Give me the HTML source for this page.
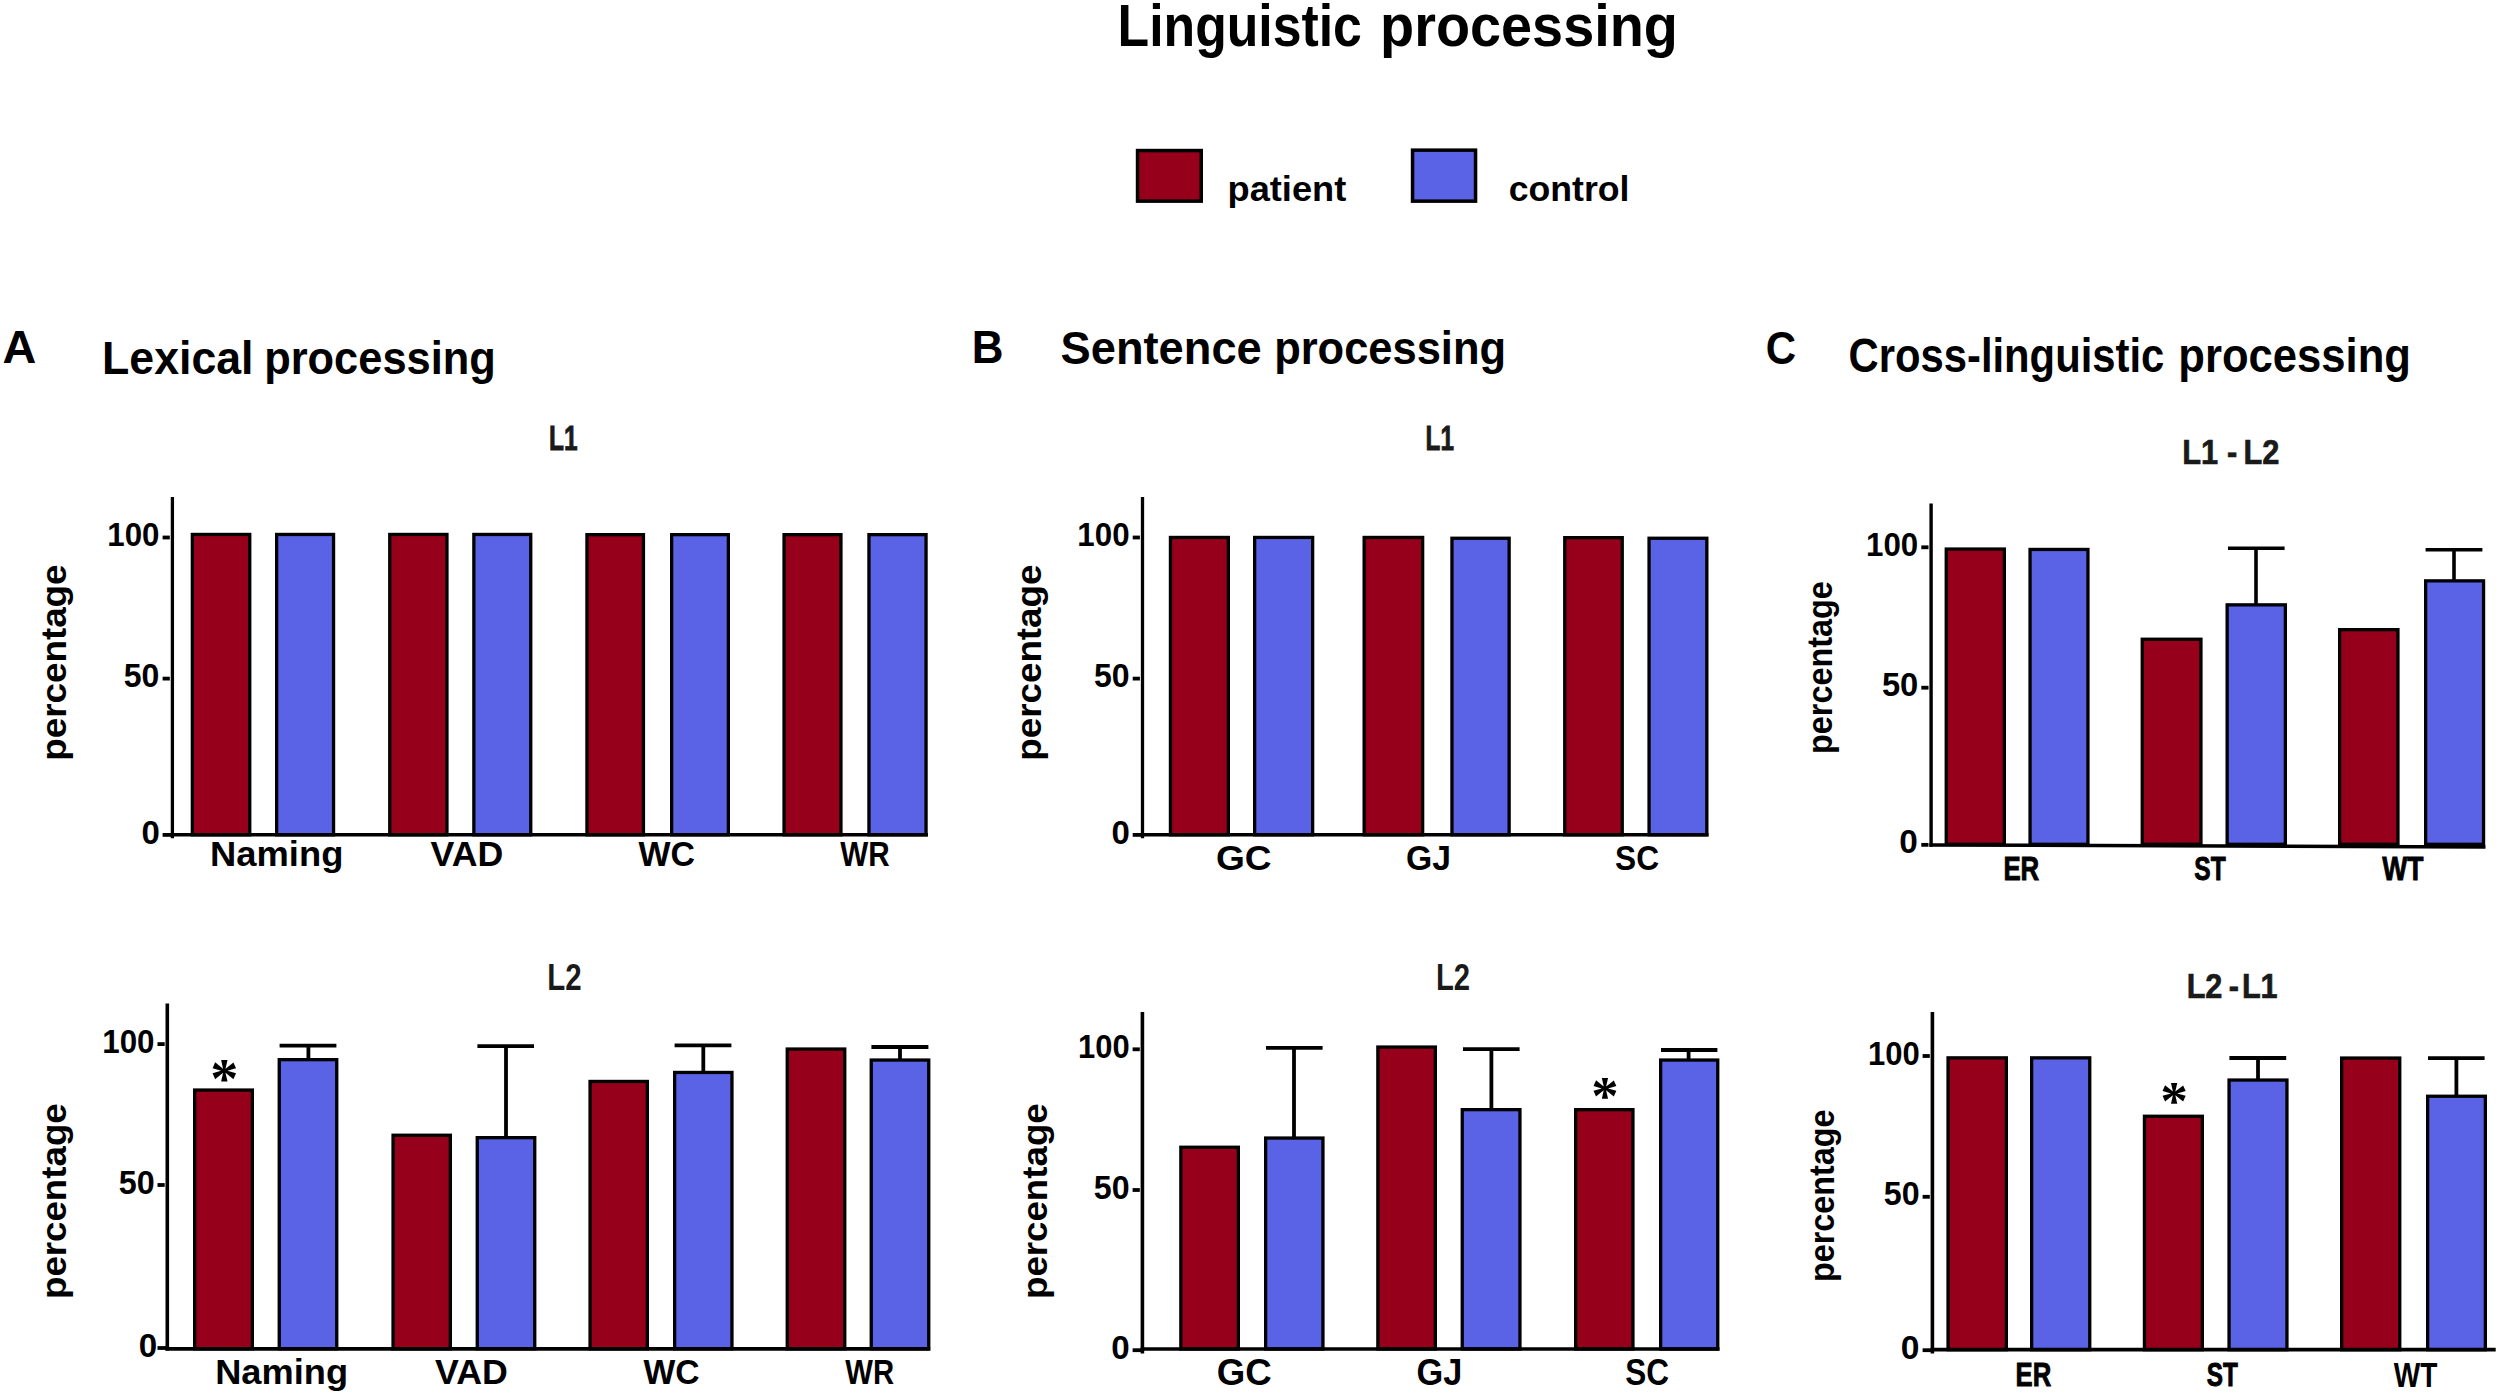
<!DOCTYPE html>
<html><head><meta charset="utf-8"><title>Linguistic processing</title>
<style>
html,body{margin:0;padding:0;background:#fff;overflow:hidden;}
svg{display:block;}
text{font-family:"Liberation Sans",sans-serif;font-weight:bold;}
text.s{font-family:"Liberation Serif",serif;}
</style></head><body>
<svg width="2500" height="1395" viewBox="0 0 2500 1395">
<rect width="2500" height="1395" fill="#fff"/>
<text transform="translate(1117.58,45.60) scale(0.8770,1)" font-size="59.01" fill="#000">Linguistic</text>
<text transform="translate(1380.12,45.60) scale(0.9460,1)" font-size="59.01" fill="#000">processing</text>
<rect x="1137.55" y="150.55" width="63.70" height="50.60" fill="#96001b" stroke="#000" stroke-width="3.5"/>
<rect x="1412.55" y="150.15" width="63.00" height="51.00" fill="#5a63e6" stroke="#000" stroke-width="3.5"/>
<text transform="translate(1227.51,201.00) scale(1.0262,1)" font-size="35.32" fill="#000">patient</text>
<text transform="translate(1508.77,201.10) scale(1.0037,1)" font-size="35.50" fill="#000">control</text>
<text transform="translate(2.38,363.00) scale(1.0269,1)" font-size="45.64" fill="#000">A</text>
<text transform="translate(971.70,363.10) scale(0.9505,1)" font-size="46.22" fill="#000">B</text>
<text transform="translate(1765.63,363.60) scale(0.9224,1)" font-size="45.56" fill="#000">C</text>
<text transform="translate(102.05,374.40) scale(0.9785,1)" font-size="45.64" fill="#000">Lexical</text>
<text transform="translate(264.13,374.40) scale(0.9519,1)" font-size="45.64" fill="#000">processing</text>
<text transform="translate(1060.54,364.00) scale(0.9779,1)" font-size="46.28" fill="#000">Sentence</text>
<text transform="translate(1274.13,364.00) scale(0.9397,1)" font-size="46.28" fill="#000">processing</text>
<text transform="translate(1848.55,372.40) scale(0.8838,1)" font-size="47.28" fill="#000">Cross-linguistic</text>
<text transform="translate(2178.32,372.40) scale(0.9226,1)" font-size="47.28" fill="#000">processing</text>
<rect x="192.35" y="534.45" width="57.40" height="300.35" fill="#96001b" stroke="#000" stroke-width="3.3"/>
<rect x="276.65" y="534.45" width="56.90" height="300.35" fill="#5a63e6" stroke="#000" stroke-width="3.3"/>
<rect x="389.75" y="534.45" width="57.20" height="300.35" fill="#96001b" stroke="#000" stroke-width="3.3"/>
<rect x="473.85" y="534.45" width="56.90" height="300.35" fill="#5a63e6" stroke="#000" stroke-width="3.3"/>
<rect x="586.95" y="534.65" width="56.50" height="300.15" fill="#96001b" stroke="#000" stroke-width="3.3"/>
<rect x="671.65" y="534.65" width="56.70" height="300.15" fill="#5a63e6" stroke="#000" stroke-width="3.3"/>
<rect x="784.05" y="534.65" width="56.90" height="300.15" fill="#96001b" stroke="#000" stroke-width="3.3"/>
<rect x="868.95" y="534.65" width="57.10" height="300.15" fill="#5a63e6" stroke="#000" stroke-width="3.3"/>
<line x1="172.40" y1="497.00" x2="172.40" y2="838.30" stroke="#000" stroke-width="3.3"/>
<line x1="170.75" y1="834.80" x2="928.00" y2="834.80" stroke="#000" stroke-width="3.4"/>
<text transform="translate(107.26,545.90) scale(0.9333,1)" font-size="33.52" fill="#000">100</text>
<line x1="162.60" y1="537.50" x2="169.80" y2="537.50" stroke="#000" stroke-width="3.8"/>
<text transform="translate(123.78,686.60) scale(0.9675,1)" font-size="33.09" fill="#000">50</text>
<line x1="162.60" y1="678.60" x2="169.80" y2="678.60" stroke="#000" stroke-width="3.8"/>
<text transform="translate(141.38,843.60) scale(0.9839,1)" font-size="33.52" fill="#000">0</text>
<line x1="162.60" y1="834.90" x2="172.40" y2="834.90" stroke="#000" stroke-width="3.8"/>
<text transform="translate(210.10,866.30) scale(1.0424,1)" font-size="34.88" fill="#000">Naming</text>
<text transform="translate(430.61,866.30) scale(1.0248,1)" font-size="34.88" fill="#000">VAD</text>
<text transform="translate(638.53,866.30) scale(0.9725,1)" font-size="34.88" fill="#000">WC</text>
<text transform="translate(840.14,866.30) scale(0.8509,1)" font-size="34.88" fill="#000">WR</text>
<text transform="translate(548.99,450.20) scale(0.6948,1)" font-size="35.17" fill="#1a1a1a" stroke="#1a1a1a" stroke-width="0.8" vector-effect="non-scaling-stroke" stroke-linejoin="miter">L1</text>
<text transform="translate(65.74,760.83) rotate(-90) scale(1.0243,1)" font-size="35.95" fill="#000">percentage</text>
<line x1="308.40" y1="1045.60" x2="308.40" y2="1060.00" stroke="#000" stroke-width="3.8000000000000003"/>
<line x1="279.60" y1="1045.60" x2="336.40" y2="1045.60" stroke="#000" stroke-width="3.8000000000000003"/>
<line x1="506.00" y1="1046.20" x2="506.00" y2="1138.00" stroke="#000" stroke-width="3.8000000000000003"/>
<line x1="477.40" y1="1046.20" x2="534.00" y2="1046.20" stroke="#000" stroke-width="3.8000000000000003"/>
<line x1="703.30" y1="1045.40" x2="703.30" y2="1072.80" stroke="#000" stroke-width="3.8000000000000003"/>
<line x1="674.60" y1="1045.40" x2="731.40" y2="1045.40" stroke="#000" stroke-width="3.8000000000000003"/>
<line x1="900.00" y1="1047.00" x2="900.00" y2="1060.40" stroke="#000" stroke-width="3.8000000000000003"/>
<line x1="871.40" y1="1047.00" x2="928.40" y2="1047.00" stroke="#000" stroke-width="3.8000000000000003"/>
<rect x="194.65" y="1090.05" width="57.70" height="258.75" fill="#96001b" stroke="#000" stroke-width="3.3"/>
<rect x="279.25" y="1059.65" width="57.50" height="289.15" fill="#5a63e6" stroke="#000" stroke-width="3.3"/>
<rect x="393.05" y="1135.25" width="57.30" height="213.55" fill="#96001b" stroke="#000" stroke-width="3.3"/>
<rect x="477.25" y="1137.65" width="57.50" height="211.15" fill="#5a63e6" stroke="#000" stroke-width="3.3"/>
<rect x="590.05" y="1081.45" width="57.30" height="267.35" fill="#96001b" stroke="#000" stroke-width="3.3"/>
<rect x="674.65" y="1072.45" width="57.30" height="276.35" fill="#5a63e6" stroke="#000" stroke-width="3.3"/>
<rect x="787.25" y="1049.05" width="57.50" height="299.75" fill="#96001b" stroke="#000" stroke-width="3.3"/>
<rect x="871.25" y="1060.05" width="57.50" height="288.75" fill="#5a63e6" stroke="#000" stroke-width="3.3"/>
<line x1="167.30" y1="1003.60" x2="167.30" y2="1350.60" stroke="#000" stroke-width="3.6"/>
<line x1="165.50" y1="1348.80" x2="930.20" y2="1348.80" stroke="#000" stroke-width="3.7"/>
<text transform="translate(102.26,1052.60) scale(0.9353,1)" font-size="33.52" fill="#000">100</text>
<line x1="157.50" y1="1044.10" x2="164.70" y2="1044.10" stroke="#000" stroke-width="3.8"/>
<text transform="translate(118.67,1193.50) scale(0.9637,1)" font-size="33.52" fill="#000">50</text>
<line x1="157.50" y1="1185.00" x2="164.70" y2="1185.00" stroke="#000" stroke-width="3.8"/>
<text transform="translate(138.87,1356.60) scale(0.9901,1)" font-size="33.52" fill="#000">0</text>
<line x1="157.50" y1="1348.00" x2="167.30" y2="1348.00" stroke="#000" stroke-width="3.8"/>
<text transform="translate(215.21,1383.70) scale(1.0340,1)" font-size="35.03" fill="#000">Naming</text>
<text transform="translate(435.11,1383.70) scale(1.0206,1)" font-size="35.03" fill="#000">VAD</text>
<text transform="translate(643.43,1383.70) scale(0.9615,1)" font-size="35.03" fill="#000">WC</text>
<text transform="translate(845.24,1383.70) scale(0.8370,1)" font-size="35.03" fill="#000">WR</text>
<text class="s" transform="translate(210.24,1097.61) scale(0.9976,1)" font-size="56.38">*</text>
<text transform="translate(547.16,989.80) scale(0.8121,1)" font-size="36.25" fill="#1a1a1a">L2</text>
<text transform="translate(65.84,1299.02) rotate(-90) scale(1.0206,1)" font-size="35.95" fill="#000">percentage</text>
<rect x="1170.45" y="537.45" width="57.90" height="297.35" fill="#96001b" stroke="#000" stroke-width="3.3"/>
<rect x="1254.65" y="537.45" width="58.00" height="297.35" fill="#5a63e6" stroke="#000" stroke-width="3.3"/>
<rect x="1364.15" y="537.45" width="58.50" height="297.35" fill="#96001b" stroke="#000" stroke-width="3.3"/>
<rect x="1451.95" y="538.25" width="57.20" height="296.55" fill="#5a63e6" stroke="#000" stroke-width="3.3"/>
<rect x="1564.75" y="537.65" width="57.50" height="297.15" fill="#96001b" stroke="#000" stroke-width="3.3"/>
<rect x="1649.05" y="538.25" width="57.80" height="296.55" fill="#5a63e6" stroke="#000" stroke-width="3.3"/>
<line x1="1142.50" y1="497.00" x2="1142.50" y2="838.30" stroke="#000" stroke-width="3.3"/>
<line x1="1140.85" y1="834.80" x2="1708.50" y2="834.80" stroke="#000" stroke-width="3.4"/>
<text transform="translate(1077.36,545.90) scale(0.9333,1)" font-size="33.52" fill="#000">100</text>
<line x1="1132.70" y1="537.50" x2="1139.90" y2="537.50" stroke="#000" stroke-width="3.8"/>
<text transform="translate(1093.88,686.60) scale(0.9675,1)" font-size="33.09" fill="#000">50</text>
<line x1="1132.70" y1="678.60" x2="1139.90" y2="678.60" stroke="#000" stroke-width="3.8"/>
<text transform="translate(1111.48,843.60) scale(0.9839,1)" font-size="33.52" fill="#000">0</text>
<line x1="1132.70" y1="834.90" x2="1142.50" y2="834.90" stroke="#000" stroke-width="3.8"/>
<text transform="translate(1215.94,870.20) scale(1.0690,1)" font-size="34.67" fill="#000">GC</text>
<text transform="translate(1406.09,870.20) scale(0.9709,1)" font-size="34.67" fill="#000">GJ</text>
<text transform="translate(1615.05,870.20) scale(0.9138,1)" font-size="34.67" fill="#000">SC</text>
<text transform="translate(1425.60,450.20) scale(0.6895,1)" font-size="35.17" fill="#1a1a1a" stroke="#1a1a1a" stroke-width="0.8" vector-effect="non-scaling-stroke" stroke-linejoin="miter">L1</text>
<text transform="translate(1040.64,760.63) rotate(-90) scale(1.0222,1)" font-size="35.95" fill="#000">percentage</text>
<line x1="1294.00" y1="1047.80" x2="1294.00" y2="1138.40" stroke="#000" stroke-width="3.8000000000000003"/>
<line x1="1266.00" y1="1047.80" x2="1322.60" y2="1047.80" stroke="#000" stroke-width="3.8000000000000003"/>
<line x1="1491.40" y1="1049.20" x2="1491.40" y2="1110.00" stroke="#000" stroke-width="3.8000000000000003"/>
<line x1="1463.00" y1="1049.20" x2="1519.60" y2="1049.20" stroke="#000" stroke-width="3.8000000000000003"/>
<line x1="1688.60" y1="1050.00" x2="1688.60" y2="1060.40" stroke="#000" stroke-width="3.8000000000000003"/>
<line x1="1661.00" y1="1050.00" x2="1717.40" y2="1050.00" stroke="#000" stroke-width="3.8000000000000003"/>
<rect x="1180.85" y="1147.25" width="57.50" height="201.75" fill="#96001b" stroke="#000" stroke-width="3.3"/>
<rect x="1265.65" y="1138.05" width="57.30" height="210.95" fill="#5a63e6" stroke="#000" stroke-width="3.3"/>
<rect x="1377.85" y="1047.05" width="57.50" height="301.95" fill="#96001b" stroke="#000" stroke-width="3.3"/>
<rect x="1462.25" y="1109.65" width="57.70" height="239.35" fill="#5a63e6" stroke="#000" stroke-width="3.3"/>
<rect x="1575.65" y="1109.65" width="57.30" height="239.35" fill="#96001b" stroke="#000" stroke-width="3.3"/>
<rect x="1660.65" y="1060.05" width="57.10" height="288.95" fill="#5a63e6" stroke="#000" stroke-width="3.3"/>
<line x1="1142.40" y1="1012.00" x2="1142.40" y2="1353.60" stroke="#000" stroke-width="3.6"/>
<line x1="1140.60" y1="1349.00" x2="1719.50" y2="1349.00" stroke="#000" stroke-width="3.7"/>
<text transform="translate(1078.08,1057.80) scale(0.9219,1)" font-size="33.52" fill="#000">100</text>
<line x1="1132.60" y1="1049.30" x2="1139.80" y2="1049.30" stroke="#000" stroke-width="3.8"/>
<text transform="translate(1093.87,1198.50) scale(0.9608,1)" font-size="33.52" fill="#000">50</text>
<line x1="1132.60" y1="1190.00" x2="1139.80" y2="1190.00" stroke="#000" stroke-width="3.8"/>
<text transform="translate(1111.27,1358.70) scale(0.9901,1)" font-size="33.52" fill="#000">0</text>
<line x1="1132.60" y1="1350.20" x2="1142.40" y2="1350.20" stroke="#000" stroke-width="3.8"/>
<text transform="translate(1216.66,1384.80) scale(1.0110,1)" font-size="36.25" fill="#000">GC</text>
<text transform="translate(1416.46,1384.80) scale(0.9467,1)" font-size="36.25" fill="#000">GJ</text>
<text transform="translate(1625.25,1384.80) scale(0.8699,1)" font-size="36.25" fill="#000">SC</text>
<text class="s" transform="translate(1591.30,1113.86) scale(0.9813,1)" font-size="55.85">*</text>
<text transform="translate(1435.97,989.80) scale(0.8068,1)" font-size="36.25" fill="#1a1a1a">L2</text>
<text transform="translate(1046.94,1299.02) rotate(-90) scale(1.0206,1)" font-size="35.95" fill="#000">percentage</text>
<line x1="2256.00" y1="548.20" x2="2256.00" y2="605.20" stroke="#000" stroke-width="3.6"/>
<line x1="2228.00" y1="548.20" x2="2284.60" y2="548.20" stroke="#000" stroke-width="3.6"/>
<line x1="2454.00" y1="549.80" x2="2454.00" y2="581.20" stroke="#000" stroke-width="3.6"/>
<line x1="2425.60" y1="549.80" x2="2482.40" y2="549.80" stroke="#000" stroke-width="3.6"/>
<rect x="1946.25" y="549.05" width="58.10" height="295.25" fill="#96001b" stroke="#000" stroke-width="3.3"/>
<rect x="2030.05" y="549.45" width="57.90" height="294.85" fill="#5a63e6" stroke="#000" stroke-width="3.3"/>
<rect x="2142.25" y="639.25" width="58.70" height="205.05" fill="#96001b" stroke="#000" stroke-width="3.3"/>
<rect x="2227.15" y="604.85" width="58.20" height="239.45" fill="#5a63e6" stroke="#000" stroke-width="3.3"/>
<rect x="2339.65" y="629.65" width="58.30" height="214.65" fill="#96001b" stroke="#000" stroke-width="3.3"/>
<rect x="2425.65" y="580.85" width="57.90" height="263.45" fill="#5a63e6" stroke="#000" stroke-width="3.3"/>
<line x1="1931.10" y1="503.40" x2="1931.10" y2="846.70" stroke="#000" stroke-width="3.4"/>
<line x1="1929.40" y1="845.00" x2="2485.50" y2="846.90" stroke="#000" stroke-width="3.5"/>
<text transform="translate(1866.06,555.80) scale(0.9333,1)" font-size="33.52" fill="#000">100</text>
<line x1="1921.30" y1="547.30" x2="1928.50" y2="547.30" stroke="#000" stroke-width="3.8"/>
<text transform="translate(1881.95,696.20) scale(0.9752,1)" font-size="33.52" fill="#000">50</text>
<line x1="1921.30" y1="687.70" x2="1928.50" y2="687.70" stroke="#000" stroke-width="3.8"/>
<text transform="translate(1899.26,853.40) scale(0.9964,1)" font-size="33.52" fill="#000">0</text>
<line x1="1921.30" y1="844.85" x2="1928.50" y2="844.85" stroke="#000" stroke-width="3.8"/>
<text transform="translate(2003.39,879.90) scale(0.7764,1)" font-size="33.28" fill="#000" stroke="#000" stroke-width="0.8" vector-effect="non-scaling-stroke" stroke-linejoin="miter">ER</text>
<text transform="translate(2194.36,879.90) scale(0.7377,1)" font-size="33.28" fill="#000" stroke="#000" stroke-width="0.8" vector-effect="non-scaling-stroke" stroke-linejoin="miter">ST</text>
<text transform="translate(2382.35,879.90) scale(0.7969,1)" font-size="33.28" fill="#000" stroke="#000" stroke-width="0.8" vector-effect="non-scaling-stroke" stroke-linejoin="miter">WT</text>
<text transform="translate(0,464.30) scale(0.8748,1)" font-size="35.24" fill="#1a1a1a" stroke="#1a1a1a" stroke-width="0.7" vector-effect="non-scaling-stroke"><tspan x="2494.47">L1</tspan><tspan x="2545.84">-</tspan><tspan x="2564.47">L2</tspan></text>
<text transform="translate(1832.24,754.04) rotate(-90) scale(0.9062,1)" font-size="35.77" fill="#000">percentage</text>
<line x1="2258.00" y1="1058.00" x2="2258.00" y2="1080.40" stroke="#000" stroke-width="3.8000000000000003"/>
<line x1="2229.40" y1="1058.00" x2="2286.20" y2="1058.00" stroke="#000" stroke-width="3.8000000000000003"/>
<line x1="2456.40" y1="1058.20" x2="2456.40" y2="1096.60" stroke="#000" stroke-width="3.8000000000000003"/>
<line x1="2428.00" y1="1058.20" x2="2484.60" y2="1058.20" stroke="#000" stroke-width="3.8000000000000003"/>
<rect x="1948.05" y="1057.85" width="58.30" height="291.85" fill="#96001b" stroke="#000" stroke-width="3.3"/>
<rect x="2031.65" y="1057.85" width="58.10" height="291.85" fill="#5a63e6" stroke="#000" stroke-width="3.3"/>
<rect x="2144.45" y="1116.25" width="57.90" height="233.45" fill="#96001b" stroke="#000" stroke-width="3.3"/>
<rect x="2229.05" y="1080.05" width="57.90" height="269.65" fill="#5a63e6" stroke="#000" stroke-width="3.3"/>
<rect x="2341.65" y="1058.05" width="58.10" height="291.65" fill="#96001b" stroke="#000" stroke-width="3.3"/>
<rect x="2427.65" y="1096.25" width="57.70" height="253.45" fill="#5a63e6" stroke="#000" stroke-width="3.3"/>
<line x1="1932.40" y1="1012.00" x2="1932.40" y2="1353.60" stroke="#000" stroke-width="3.6"/>
<line x1="1930.60" y1="1349.70" x2="2495.70" y2="1349.70" stroke="#000" stroke-width="3.7"/>
<text transform="translate(1867.88,1064.50) scale(0.9257,1)" font-size="33.52" fill="#000">100</text>
<line x1="1922.60" y1="1056.00" x2="1929.80" y2="1056.00" stroke="#000" stroke-width="3.8"/>
<text transform="translate(1883.87,1205.30) scale(0.9608,1)" font-size="33.52" fill="#000">50</text>
<line x1="1922.60" y1="1196.80" x2="1929.80" y2="1196.80" stroke="#000" stroke-width="3.8"/>
<text transform="translate(1900.76,1358.70) scale(1.0027,1)" font-size="33.52" fill="#000">0</text>
<line x1="1922.60" y1="1350.20" x2="1932.40" y2="1350.20" stroke="#000" stroke-width="3.8"/>
<text transform="translate(2015.60,1386.10) scale(0.7586,1)" font-size="33.87" fill="#000" stroke="#000" stroke-width="0.8" vector-effect="non-scaling-stroke" stroke-linejoin="miter">ER</text>
<text transform="translate(2206.67,1386.10) scale(0.7179,1)" font-size="33.87" fill="#000" stroke="#000" stroke-width="0.8" vector-effect="non-scaling-stroke" stroke-linejoin="miter">ST</text>
<text transform="translate(2393.64,1386.50) scale(0.8016,1)" font-size="35.03" fill="#000">WT</text>
<text class="s" transform="translate(2160.17,1118.86) scale(0.9942,1)" font-size="55.85">*</text>
<text transform="translate(0,997.80) scale(0.8522,1)" font-size="35.96" fill="#1a1a1a" stroke="#1a1a1a" stroke-width="0.7" vector-effect="non-scaling-stroke"><tspan x="2565.87">L2</tspan><tspan x="2615.42">-</tspan><tspan x="2630.72">L1</tspan></text>
<text transform="translate(1833.84,1281.93) rotate(-90) scale(0.9087,1)" font-size="35.58" fill="#000">percentage</text>
</svg>
</body></html>
